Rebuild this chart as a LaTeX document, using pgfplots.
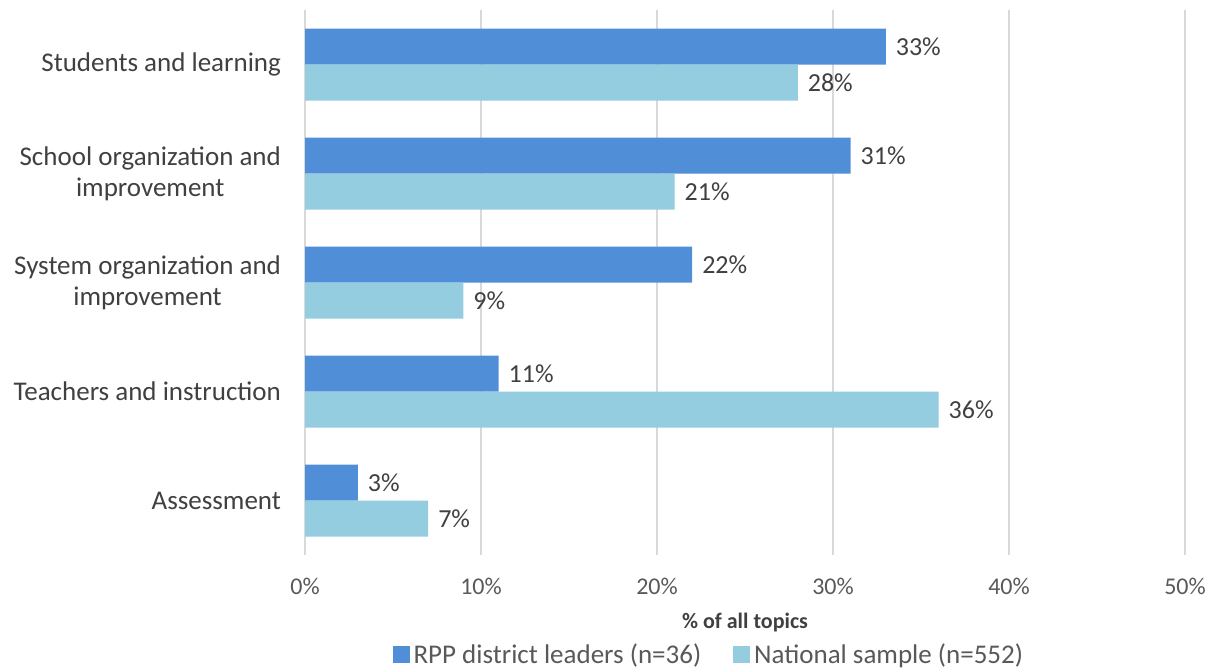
\documentclass[border=0pt]{standalone}
\usepackage{fontspec}
\setmainfont{Carlito}
\usepackage{pgfplots}
\pgfplotsset{compat=1.18}
\definecolor{rpp}{HTML}{518ED8}
\definecolor{nat}{HTML}{93CDDF}
\definecolor{gridc}{HTML}{D9D9D9}
\definecolor{txt}{HTML}{404040}
\definecolor{tickc}{HTML}{595959}
\begin{document}
\begin{tikzpicture}
\begin{axis}[
name=ax,
scale only axis,
width=440pt, height=272.5pt,
xbar, bar width=18pt,
xmin=0, xmax=50, ymin=-0.5, ymax=4.5,
xtick={0,10,20,30,40,50},
xticklabel={\pgfmathprintnumber{\tick}\%},
/pgf/number format/assume math mode=true,
xticklabel style={font=\fontsize{12}{14}\selectfont, text=tickc, yshift=-8pt},
ytick={0,1,2,3,4},
yticklabels={Assessment, Teachers and instruction, {System organization and\\improvement}, {School organization and\\improvement}, Students and learning},
yticklabel style={align=center, font=\fontsize{13.5}{15.5}\selectfont, text=txt, xshift=-8.5pt},
major tick length=0pt,
axis line style={draw=none},
xmajorgrids, major grid style={gridc, line width=1pt},
xlabel={\textbf{\% of all topics}},
xlabel style={at={(axis description cs:0.5,-0.123)}, anchor=center, font=\fontsize{11}{13}\selectfont, text=txt},
legend style={at={(axis description cs:0.46,-0.183)}, anchor=center, draw=none,
  legend columns=2, font=\fontsize{13.5}{15}\selectfont, text=tickc,
  /tikz/every even column/.append style={column sep=14pt}},
legend image code/.code={\fill[#1] (0pt,-4.25pt) rectangle (8.5pt,4.25pt);},
nodes near coords={\pgfmathprintnumber{\pgfplotspointmeta}\%},
point meta=x,
nodes near coords style={anchor=west, font=\fontsize{13}{15}\selectfont, text=txt, xshift=1.5pt},
]
\addplot[fill=rpp, draw=none, bar shift=9pt] coordinates {(3,0) (11,1) (22,2) (31,3) (33,4)};
\addlegendentry{RPP district leaders (n=36)}
\addplot[fill=nat, draw=none, bar shift=-9pt] coordinates {(7,0) (36,1) (9,2) (21,3) (28,4)};
\addlegendentry{National sample (n=552)}
\end{axis}
\pgfresetboundingbox
\path ([xshift=-152.5pt, yshift=-58pt]ax.south west) rectangle ([xshift=12.5pt, yshift=5pt]ax.north east);
\end{tikzpicture}
\end{document}
